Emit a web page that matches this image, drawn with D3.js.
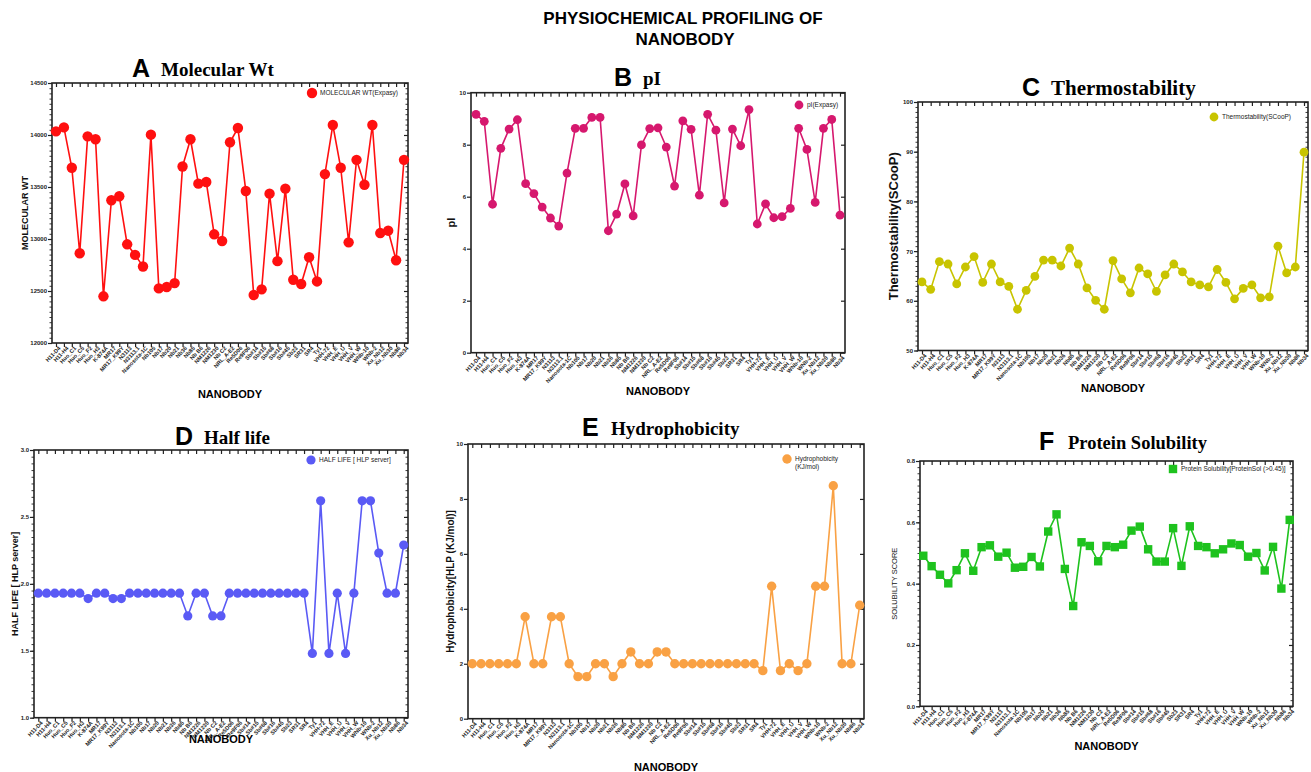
<!DOCTYPE html>
<html>
<head>
<meta charset="utf-8">
<script src="https://cdn.jsdelivr.net/npm/d3@7"></script>
<style>
  body { margin: 0; background: #fff; }
  text { font-family: "Liberation Sans", Arial, sans-serif; }
</style>
</head>
<body>
<svg id="chart" width="1311" height="772"></svg>
<script>
// categories (x axis)
const nanobodies = ["H11-D4","H11-H4","Huo_C1","Huo_C5","Huo_F2","Huo_H3","K-874A","MR17","MR17_K99Y","N3113",
  "N3113.1","Nanosota-1C","Nb105","Nb17","Nb20","Nb21","Nb36","Nb85","Nb B6","NM1226",
  "NM1230","Nb C2","NRL_A-E2","Re5D06","Re9F06","Sb#14","Sb#15","Sb#68","Sb#16","Sb#45",
  "Sb23","SR31","SR4","Ty1","VHH-72","VHH_E","VHH_U","VHH_V","VHH_W","WNb-10",
  "WNb-2","Xu_Nb12","Xu_Nb30","Nb86","Nb34"];

// series values
const molWt = [14035,14073,13685,12863,13987,13959,12449,13373,13411,12949,
  12847,12736,14003,12525,12538,12576,13697,13959,13532,13548,
  13045,12981,13930,14067,13462,12462,12516,13436,12787,13484,
  12608,12567,12825,12592,13624,14096,13685,12968,13761,13522,
  14096,13057,13080,12796,13761];
const pI = [9.17,8.90,5.71,7.86,8.60,8.96,6.50,6.12,5.60,5.18,
  4.87,6.91,8.63,8.63,9.05,9.05,4.69,5.33,6.49,5.26,
  7.99,8.62,8.65,7.91,6.41,8.92,8.59,6.06,9.17,8.56,
  5.76,8.60,7.96,9.35,4.95,5.72,5.19,5.23,5.55,8.63,
  7.82,5.78,8.63,8.97,5.29];
const thermo = [63.8,62.3,67.9,67.4,63.4,66.8,68.9,63.7,67.4,63.8,
  62.9,58.3,62.1,64.9,68.2,68.2,67.0,70.6,67.4,62.6,
  60.1,58.3,68.1,64.4,61.6,66.6,65.4,61.9,65.2,67.4,
  65.8,63.8,63.2,62.8,66.3,63.7,60.4,62.5,63.2,60.6,
  60.8,71.0,65.6,66.8,89.9];
const halfLife = [1.93,1.93,1.93,1.93,1.93,1.93,1.89,1.93,1.93,1.89,
  1.89,1.93,1.93,1.93,1.93,1.93,1.93,1.93,1.76,1.93,
  1.93,1.76,1.76,1.93,1.93,1.93,1.93,1.93,1.93,1.93,
  1.93,1.93,1.93,1.48,2.62,1.48,1.93,1.48,1.93,2.62,
  2.62,2.23,1.93,1.93,2.29];
const hydro = [2.0,2.0,2.0,2.0,2.0,2.0,3.71,2.0,2.0,3.71,
  3.71,2.0,1.53,1.53,2.0,2.0,1.53,2.0,2.43,2.0,
  2.0,2.43,2.43,2.0,2.0,2.0,2.0,2.0,2.0,2.0,
  2.0,2.0,2.0,1.75,4.82,1.75,2.0,1.75,2.0,4.82,
  4.82,8.48,2.0,2.0,4.13];
const solubility = [0.491,0.457,0.429,0.401,0.444,0.499,0.442,0.519,0.525,0.488,
  0.501,0.452,0.455,0.487,0.456,0.570,0.626,0.448,0.327,0.535,
  0.523,0.473,0.523,0.519,0.527,0.573,0.586,0.512,0.472,0.472,
  0.581,0.458,0.587,0.523,0.519,0.499,0.512,0.531,0.526,0.488,
  0.500,0.443,0.520,0.384,0.608];

// y tick labels
const molWtTicks = [12000,12500,13000,13500,14000,14500];
const pITicks = [0,2,4,6,8,10];
const thermoTicks = [50,60,70,80,90,100];
const halfLifeTicks = [1.0,1.5,2.0,2.5,3.0];
const hydroTicks = [0,2,4,6,8,10];
const solubilityTicks = [0.0,0.2,0.4,0.6,0.8];

const svg = d3.select("#chart");

// main title
svg.append("text").attr("x", 683).attr("y", 24).attr("text-anchor", "middle")
  .style("font-size", "17px").style("font-weight", "bold").text("PHYSIOCHEMICAL PROFILING OF");
svg.append("text").attr("x", 685).attr("y", 45).attr("text-anchor", "middle")
  .style("font-size", "17px").style("font-weight", "bold").text("NANOBODY");

const panels = [
  { letter: "A", title: "Molecular Wt", values: molWt, ticks: molWtTicks, fmt: d3.format("d"), minor: 50,
    color: "#ff1010", shape: "circle", r: 5.2,
    left: 52, right: 408, top: 83, bottom: 343, inset: 4,
    letterX: 132, titleY: 77, titleSize: 19, ylabel: "MOLECULAR WT", ylabelX: 28, ylabelSize: 9, ylabelWeight: "bold",
    xlabelY: 398, legend: ["MOLECULAR WT(Expasy)"], legendX: 312, legendY: 93 },
  { letter: "B", title: "pI", values: pI, ticks: pITicks, fmt: d3.format("d"), minor: null,
    color: "#d6186e", shape: "circle", r: 4.4,
    left: 471, right: 845, top: 92.7, bottom: 352.7, inset: 5,
    letterX: 614, titleY: 86, titleSize: 19, ylabel: "pI", ylabelX: 455, ylabelSize: 11, ylabelWeight: "bold",
    xlabelY: 395, legend: ["pI(Expasy)"], legendX: 799, legendY: 105 },
  { letter: "C", title: "Thermostability", values: thermo, ticks: thermoTicks, fmt: d3.format("d"), minor: 1,
    color: "#c8c400", shape: "circle", r: 4.4,
    left: 918, right: 1308, top: 102, bottom: 350.5, inset: 4,
    letterX: 1022, titleY: 96, titleSize: 21, ylabel: "Thermostability(SCooP)", ylabelX: 898, ylabelSize: 13, ylabelWeight: "bold",
    xlabelY: 392, legend: ["Thermostability(SCooP)"], legendX: 1214, legendY: 117 },
  { letter: "D", title: "Half life", values: halfLife, ticks: halfLifeTicks, fmt: d3.format(".1f"), minor: 0.05,
    color: "#5a5af5", shape: "circle", r: 4.6,
    left: 34, right: 408, top: 450, bottom: 717.7, inset: 4.3,
    letterX: 175, titleY: 445, titleSize: 19, ylabel: "HALF LIFE [ HLP server]", ylabelX: 18, ylabelSize: 9, ylabelWeight: "bold",
    xlabelY: 743, legend: ["HALF LIFE [ HLP server]"], legendX: 311, legendY: 460 },
  { letter: "E", title: "Hydrophobicity", values: hydro, ticks: hydroTicks, fmt: d3.format("d"), minor: null,
    color: "#f9a144", shape: "circle", r: 4.7,
    left: 468, right: 864, top: 444, bottom: 718.7, inset: 4.3,
    letterX: 582, titleY: 436, titleSize: 19, ylabel: "Hydrophobicity[HLP (KJ/mol)]", ylabelX: 454, ylabelSize: 10, ylabelWeight: "bold",
    xlabelY: 771, legend: ["Hydrophobicity", "(KJ/mol)"], legendX: 787, legendY: 459 },
  { letter: "F", title: "Protein Solubility", values: solubility, ticks: solubilityTicks, fmt: d3.format(".1f"), minor: 0.02,
    color: "#1ec21e", shape: "square", r: 4.2,
    left: 920, right: 1293, top: 461, bottom: 706.3, inset: 3.3,
    letterX: 1039, titleY: 450, titleSize: 18.5, ylabel: "SOLUBILITY SCORE", ylabelX: 897, ylabelSize: 7.5, ylabelWeight: "normal",
    xlabelY: 750, legend: ["Protein Solubility[ProteinSol (>0.45)]"], legendX: 1173, legendY: 469 }
];

const drawMarker = (sel, p) => {
  if (p.shape === "square") {
    sel.append("rect")
      .attr("x", -p.r).attr("y", -p.r)
      .attr("width", p.r * 2).attr("height", p.r * 2)
      .attr("fill", p.color);
  } else {
    sel.append("circle").attr("r", p.r).attr("fill", p.color);
  }
};

panels.forEach(p => {
  const g = svg.append("g");

  const x = d3.scalePoint()
    .domain(nanobodies)
    .range([p.left + p.inset, p.right - p.inset]);

  const y = d3.scaleLinear()
    .domain(d3.extent(p.ticks))
    .range([p.bottom, p.top]);

  // panel heading
  g.append("text").attr("x", p.letterX).attr("y", p.titleY)
    .style("font-size", "25px").style("font-weight", "bold").text(p.letter);
  g.append("text").attr("x", p.letterX + 29).attr("y", p.titleY - 1)
    .style("font-family", "'Liberation Serif', 'Times New Roman', serif")
    .style("font-size", p.titleSize + "px").style("font-weight", "bold").text(p.title);

  // frame
  g.append("rect")
    .attr("x", p.left).attr("y", p.top)
    .attr("width", p.right - p.left).attr("height", p.bottom - p.top)
    .attr("fill", "none").attr("stroke", "#222").attr("stroke-width", 1.6);

  // left axis
  const yAxis = d3.axisLeft(y).tickValues(p.ticks).tickFormat(p.fmt).tickSize(4).tickPadding(1);
  const ya = g.append("g").attr("transform", `translate(${p.left},0)`).call(yAxis);
  ya.select(".domain").remove();
  ya.selectAll("line").attr("stroke", "#222").attr("stroke-width", 1.2);
  ya.selectAll("text").style("font-size", "6px").style("font-weight", "bold").attr("fill", "#222");

  // right axis (inward ticks)
  const ra = g.append("g").attr("transform", `translate(${p.right},0)`)
    .call(d3.axisLeft(y).tickValues(p.ticks).tickFormat("").tickSize(4));
  ra.select(".domain").remove();
  ra.selectAll("line").attr("stroke", "#222").attr("stroke-width", 1.2);

  if (p.minor) {
    const minorTicks = d3.range(p.ticks[0], p.ticks[p.ticks.length - 1] + p.minor / 2, p.minor);
    [p.left, p.right].forEach(px => {
      const ma = g.append("g").attr("transform", `translate(${px},0)`)
        .call(d3.axisLeft(y).tickValues(minorTicks).tickFormat("").tickSize(2.5));
      ma.select(".domain").remove();
      ma.selectAll("line").attr("stroke", "#222").attr("stroke-width", 0.9);
    });
  }

  // bottom axis with rotated category labels
  const xa = g.append("g").attr("transform", `translate(0,${p.bottom})`)
    .call(d3.axisBottom(x).tickSize(4).tickPadding(2));
  xa.select(".domain").remove();
  xa.selectAll("line").attr("stroke", "#222").attr("stroke-width", 1.2);
  xa.selectAll("text")
    .style("font-size", "5.6px").style("font-weight", "bold").attr("fill", "#222")
    .attr("text-anchor", "end")
    .attr("dy", "0.35em").attr("y", 5).attr("x", -1)
    .attr("transform", "rotate(-47)");

  // top axis (inward ticks)
  const ta = g.append("g").attr("transform", `translate(0,${p.top})`)
    .call(d3.axisBottom(x).tickSize(4).tickFormat(""));
  ta.select(".domain").remove();
  ta.selectAll("line").attr("stroke", "#222").attr("stroke-width", 1.2);

  // axis titles
  g.append("text")
    .attr("transform", `translate(${p.ylabelX},${(p.top + p.bottom) / 2}) rotate(-90)`)
    .attr("text-anchor", "middle")
    .style("font-size", p.ylabelSize + "px").style("font-weight", p.ylabelWeight)
    .attr("fill", "#111")
    .text(p.ylabel);
  g.append("text")
    .attr("x", (p.left + p.right) / 2).attr("y", p.xlabelY)
    .attr("text-anchor", "middle")
    .style("font-size", "11px").style("font-weight", "bold")
    .text("NANOBODY");

  // series line + markers
  const line = d3.line()
    .x((d, i) => x(nanobodies[i]))
    .y(d => y(d));
  g.append("path").datum(p.values)
    .attr("d", line)
    .attr("fill", "none").attr("stroke", p.color).attr("stroke-width", 1.6);

  const pts = g.selectAll(".pt")
    .data(p.values)
    .enter()
    .append("g")
      .attr("class", "pt")
      .attr("transform", (d, i) => `translate(${x(nanobodies[i])},${y(d)})`);
  drawMarker(pts, p);

  // legend
  const lg = g.append("g").attr("transform", `translate(${p.legendX},${p.legendY})`);
  drawMarker(lg, p);
  p.legend.forEach((t, k) => {
    lg.append("text").attr("x", 8).attr("y", k * 8).attr("dy", "0.35em")
      .style("font-size", "6.5px").attr("fill", "#222").text(t);
  });
});
</script>
</body>
</html>
